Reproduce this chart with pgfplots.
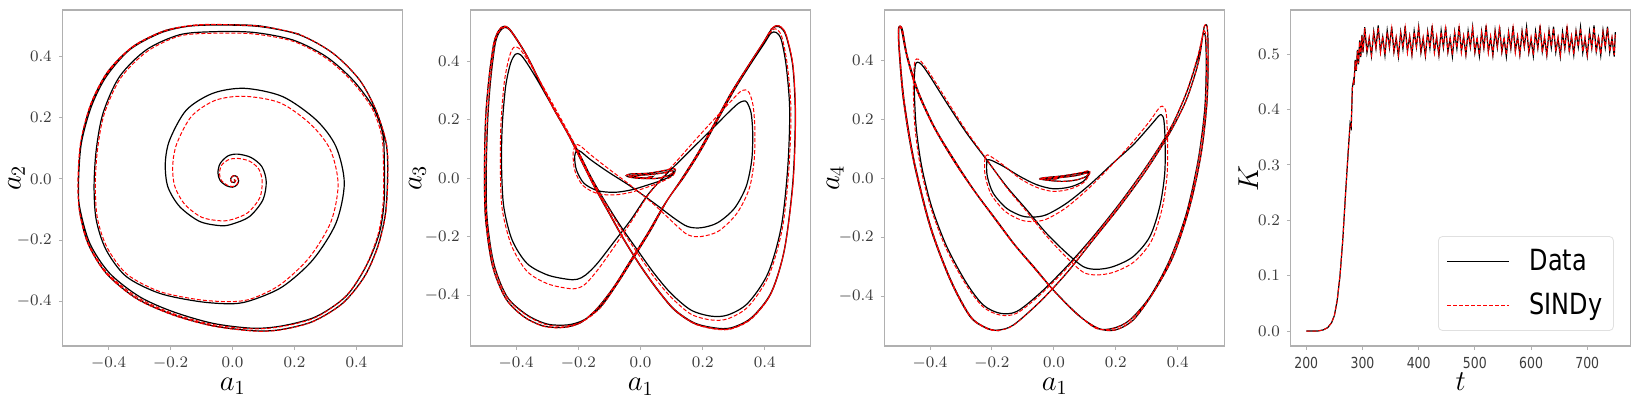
\documentclass[border=0pt]{standalone}
\usepackage{fontspec}
\usepackage{pgfplots}
\pgfplotsset{compat=1.18}
\newfontfamily\legfont[FakeStretch=0.82]{DejaVu Sans}
\definecolor{framegray}{RGB}{176,176,176}
\definecolor{ticktext}{RGB}{60,60,60}
\pgfplotsset{
  panel/.style={
    scale only axis, width=170pt, height=168pt,
    axis line style={framegray, line width=0.6pt},
    tick align=outside, xtick pos=bottom, ytick pos=left,
    major tick length=2pt, tick style={framegray, line width=0.5pt},
    tick label style={color=ticktext, font=\fontsize{8.4}{10}\selectfont},
    label style={font=\fontsize{14.5}{17}\selectfont},
    xlabel style={at={(axis description cs:0.5,-0.133)}, anchor=base},
    scaled ticks=false,
    /pgf/number format/fixed, /pgf/number format/fixed zerofill, /pgf/number format/precision=1,
  },
  phase/.style={panel, xtick={-0.4,-0.2,0,0.2,0.4}, ytick={-0.4,-0.2,0,0.2,0.4}},
  data/.style={black, line width=0.6pt, smooth, tension=0.5},
  sindy/.style={red, line width=0.5pt, dash pattern=on 2pt off 1pt, smooth, tension=0.5},
}
\begin{document}
\begin{tikzpicture}

% ---------- panel 1: a1 vs a2
\begin{axis}[phase, at={(31.4pt,27pt)}, anchor=south west,
  xmin=-0.548, xmax=0.550, ymin=-0.546, ymax=0.552,
  xlabel={$a_1$}, ylabel={$a_2$},
  ylabel style={at={(axis description cs:-0.136,0.5)}, anchor=center}]
\addplot[data] coordinates {
(0.005,-0.002) (0.010,-0.006) (0.006,-0.012) (-0.003,-0.010) (-0.006,0.000) (0.002,0.010)
(0.014,0.008) (0.020,-0.006) (0.014,-0.020) (0.000,-0.027) (-0.020,-0.022) (-0.040,-0.005)
(-0.047,0.020) (-0.040,0.050) (-0.015,0.075) (0.017,0.081) (0.060,0.070) (0.095,0.040)
(0.109,-0.009) (0.098,-0.069) (0.055,-0.123) (0.001,-0.147) (-0.037,-0.153) (-0.106,-0.139)
(-0.171,-0.090) (-0.209,-0.025) (-0.217,0.051) (-0.203,0.127) (-0.149,0.225) (-0.063,0.280)
(0.039,0.296) (0.162,0.269) (0.270,0.193) (0.334,0.106) (0.361,-0.014) (0.334,-0.145)
(0.259,-0.265) (0.162,-0.352) (0.066,-0.395) (0.001,-0.408) (-0.106,-0.401) (-0.235,-0.374)
(-0.343,-0.319) (-0.408,-0.232) (-0.440,-0.134) (-0.447,-0.025) (-0.440,0.095) (-0.418,0.215)
(-0.365,0.334) (-0.278,0.422) (-0.171,0.471) (-0.063,0.481) (0.066,0.479) (0.195,0.454)
(0.302,0.400) (0.388,0.324) (0.453,0.236) (0.485,0.149) (0.490,0.073) (0.490,-0.069)
(0.474,-0.178) (0.431,-0.286) (0.367,-0.383) (0.270,-0.450) (0.162,-0.480) (0.066,-0.488)
(-0.063,-0.472) (-0.192,-0.434) (-0.300,-0.385) (-0.397,-0.308) (-0.461,-0.210) (-0.494,-0.090)
(-0.497,-0.003) (-0.488,0.117) (-0.456,0.236) (-0.408,0.334) (-0.332,0.422) (-0.235,0.476)
(-0.149,0.498) (-0.053,0.503) (0.087,0.498) (0.216,0.471) (0.324,0.411) (0.410,0.324)
(0.463,0.225) (0.496,0.117) (0.501,0.019) (0.494,-0.112) (0.469,-0.221) (0.426,-0.319)
(0.356,-0.406) (0.259,-0.466) (0.152,-0.493) (0.066,-0.496) (-0.063,-0.480) (-0.192,-0.444)
(-0.311,-0.390) (-0.408,-0.308) (-0.467,-0.210) (-0.494,-0.101) (-0.497,0.008) (-0.488,0.127)
(-0.456,0.247) (-0.402,0.351) (-0.322,0.432) (-0.225,0.482) (-0.139,0.500) (-0.053,0.504)
(0.087,0.500) (0.216,0.473)
};
\addplot[sindy] coordinates {
(0.005,-0.002) (0.010,-0.006) (0.006,-0.012) (-0.003,-0.010) (-0.006,0.000) (0.002,0.010)
(0.014,0.008) (0.019,-0.006) (0.013,-0.019) (0.000,-0.025) (-0.018,-0.020) (-0.036,-0.005)
(-0.042,0.018) (-0.035,0.045) (-0.012,0.063) (0.017,0.067) (0.055,0.058) (0.085,0.032)
(0.096,-0.009) (0.088,-0.062) (0.050,-0.110) (0.001,-0.132) (-0.037,-0.137) (-0.100,-0.125)
(-0.155,-0.082) (-0.187,-0.022) (-0.193,0.045) (-0.180,0.115) (-0.132,0.205) (-0.055,0.257)
(0.039,0.270) (0.155,0.248) (0.253,0.178) (0.316,0.095) (0.341,-0.017) (0.318,-0.140)
(0.248,-0.257) (0.155,-0.345) (0.066,-0.390) (0.001,-0.401) (-0.106,-0.395) (-0.235,-0.368)
(-0.340,-0.312) (-0.404,-0.226) (-0.436,-0.130) (-0.443,-0.022) (-0.436,0.095) (-0.414,0.213)
(-0.361,0.330) (-0.275,0.417) (-0.171,0.467) (-0.063,0.476) (0.066,0.474) (0.195,0.450)
(0.300,0.396) (0.385,0.320) (0.450,0.232) (0.481,0.145) (0.487,0.070) (0.487,-0.069)
(0.471,-0.178) (0.430,-0.286) (0.366,-0.383) (0.270,-0.452) (0.162,-0.482) (0.066,-0.490)
(-0.063,-0.476) (-0.192,-0.440) (-0.305,-0.388) (-0.404,-0.308) (-0.465,-0.210) (-0.495,-0.095)
(-0.499,0.003) (-0.490,0.122) (-0.457,0.242) (-0.405,0.343) (-0.327,0.427) (-0.230,0.479)
(-0.144,0.499) (-0.053,0.504) (0.087,0.499) (0.216,0.472) (0.324,0.411) (0.410,0.324)
(0.463,0.225) (0.497,0.117) (0.502,0.019) (0.495,-0.112) (0.470,-0.221) (0.427,-0.319)
(0.357,-0.406) (0.259,-0.467) (0.152,-0.494) (0.066,-0.497) (-0.063,-0.481) (-0.192,-0.445)
(-0.311,-0.391) (-0.408,-0.309) (-0.467,-0.211) (-0.495,-0.101) (-0.498,0.008) (-0.489,0.127)
(-0.457,0.247) (-0.403,0.351) (-0.323,0.432) (-0.226,0.482) (-0.139,0.501) (-0.053,0.505)
(0.087,0.500)
};
\end{axis}

% ---------- panel 2: a1 vs a3
\begin{axis}[phase, at={(235.4pt,27pt)}, anchor=south west,
  xmin=-0.546, xmax=0.548, ymin=-0.573, ymax=0.575,
  xlabel={$a_1$}, ylabel={$a_3$},
  ylabel style={at={(axis description cs:-0.157,0.5)}, anchor=center}]
\addplot[data] coordinates {
(0.023,0.003) (0.039,0.006) (0.028,0.001) (0.001,0.002) (-0.020,0.006) (-0.031,0.009)
(-0.010,0.010) (0.033,0.013) (0.076,0.019) (0.100,0.026) (0.106,0.022) (0.092,0.010)
(0.055,0.000) (0.012,-0.001) (-0.031,0.003) (-0.046,0.009) (-0.031,0.015) (0.023,0.017)
(0.076,0.026) (0.103,0.033) (0.112,0.028) (0.103,0.011) (0.071,-0.006) (0.023,-0.023)
(-0.031,-0.040) (-0.085,-0.048) (-0.139,-0.042) (-0.182,-0.017) (-0.206,0.028) (-0.212,0.074)
(-0.205,0.095) (-0.192,0.091)
(-0.160,0.063) (-0.106,0.023) (-0.031,-0.028) (0.044,-0.085) (0.109,-0.137) (0.152,-0.165)
(0.195,-0.169) (0.248,-0.152) (0.302,-0.103) (0.340,-0.028) (0.358,0.063) (0.361,0.154)
(0.356,0.222) (0.343,0.259) (0.332,0.264) (0.315,0.256)
(0.286,0.228) (0.238,0.177) (0.184,0.120) (0.130,0.063) (0.076,0.006) (0.023,-0.057)
(-0.031,-0.142) (-0.085,-0.217) (-0.139,-0.291) (-0.176,-0.330) (-0.203,-0.345) (-0.235,-0.345)
(-0.300,-0.330) (-0.365,-0.291) (-0.413,-0.211) (-0.440,-0.097) (-0.447,0.040) (-0.445,0.177)
(-0.434,0.313) (-0.418,0.393) (-0.402,0.424) (-0.386,0.422)
(-0.365,0.393) (-0.332,0.336) (-0.289,0.256) (-0.246,0.177) (-0.203,0.097) (-0.160,0.006)
(-0.117,-0.074) (-0.063,-0.165) (-0.010,-0.245) (0.044,-0.325) (0.098,-0.393) (0.162,-0.450)
(0.227,-0.471) (0.281,-0.467) (0.345,-0.427) (0.410,-0.325) (0.453,-0.165) (0.474,0.040)
(0.480,0.234) (0.469,0.382) (0.453,0.473) (0.437,0.498) (0.420,0.496)
(0.399,0.462) (0.356,0.393) (0.302,0.302) (0.248,0.199) (0.195,0.097) (0.141,0.006)
(0.087,-0.074) (0.033,-0.177) (-0.020,-0.268) (-0.074,-0.359) (-0.128,-0.439) (-0.182,-0.484)
(-0.235,-0.501) (-0.300,-0.498) (-0.365,-0.467) (-0.429,-0.405) (-0.472,-0.291) (-0.494,-0.131)
(-0.496,0.040) (-0.491,0.211) (-0.481,0.348) (-0.467,0.462) (-0.453,0.501) (-0.438,0.515)
(-0.423,0.509)
(-0.402,0.479) (-0.365,0.416) (-0.322,0.325) (-0.278,0.234) (-0.235,0.154) (-0.192,0.063)
(-0.149,-0.028) (-0.101,-0.120) (-0.053,-0.211) (0.001,-0.302) (0.055,-0.382) (0.109,-0.450)
(0.173,-0.496) (0.238,-0.513) (0.291,-0.513) (0.356,-0.479) (0.420,-0.393) (0.463,-0.245)
(0.490,-0.017) (0.498,0.211) (0.490,0.382) (0.469,0.484) (0.453,0.513) (0.437,0.519)
(0.420,0.507)
(0.394,0.462) (0.345,0.382) (0.291,0.291) (0.238,0.188) (0.184,0.085) (0.130,-0.006)
(0.076,-0.091) (0.023,-0.188) (-0.031,-0.279) (-0.085,-0.370) (-0.139,-0.444) (-0.192,-0.493)
(-0.246,-0.509) (-0.311,-0.505) (-0.375,-0.473) (-0.434,-0.410) (-0.477,-0.296) (-0.499,-0.131)
(-0.502,0.040) (-0.498,0.211) (-0.487,0.348) (-0.472,0.462) (-0.456,0.505) (-0.440,0.519)
(-0.424,0.513)
(-0.402,0.482) (-0.365,0.418) (-0.322,0.327) (-0.278,0.236) (-0.235,0.156) (-0.192,0.065)
(-0.149,-0.026) (-0.101,-0.117) (-0.053,-0.209) (0.001,-0.300) (0.055,-0.380) (0.109,-0.448)
(0.173,-0.494) (0.238,-0.511) (0.291,-0.511) (0.356,-0.477) (0.420,-0.391) (0.463,-0.243)
(0.490,-0.015) (0.498,0.213) (0.490,0.384) (0.469,0.486) (0.453,0.515) (0.437,0.521)
(0.420,0.509)
};
\addplot[sindy] coordinates {
(0.023,0.003) (0.039,0.006) (0.028,0.001) (0.001,0.002) (-0.020,0.006) (-0.031,0.009)
(-0.010,0.010) (0.033,0.013) (0.076,0.019) (0.100,0.026) (0.106,0.022) (0.092,0.010)
(0.055,0.000) (0.012,-0.001) (-0.031,0.003) (-0.046,0.009) (-0.031,0.015) (0.023,0.017)
(0.076,0.027) (0.104,0.034) (0.113,0.029) (0.105,0.010) (0.072,-0.010) (0.023,-0.030)
(-0.031,-0.048) (-0.085,-0.057) (-0.139,-0.052) (-0.185,-0.025) (-0.211,0.025) (-0.217,0.085)
(-0.208,0.114) (-0.193,0.110)
(-0.160,0.080) (-0.106,0.035) (-0.031,-0.025) (0.044,-0.090) (0.109,-0.155) (0.152,-0.193)
(0.195,-0.199) (0.252,-0.180) (0.310,-0.120) (0.350,-0.035) (0.366,0.065) (0.368,0.170)
(0.362,0.250) (0.350,0.292) (0.338,0.302) (0.320,0.295)
(0.290,0.262) (0.240,0.205) (0.184,0.140) (0.130,0.075) (0.076,0.010) (0.023,-0.060)
(-0.031,-0.150) (-0.085,-0.235) (-0.139,-0.315) (-0.176,-0.360) (-0.203,-0.376) (-0.235,-0.376)
(-0.300,-0.360) (-0.365,-0.318) (-0.415,-0.230) (-0.445,-0.105) (-0.451,0.040) (-0.449,0.185)
(-0.438,0.330) (-0.422,0.415) (-0.408,0.447) (-0.392,0.445)
(-0.370,0.415) (-0.336,0.356) (-0.292,0.272) (-0.248,0.188) (-0.205,0.103) (-0.162,0.008)
(-0.118,-0.075) (-0.064,-0.170) (-0.010,-0.255) (0.044,-0.338) (0.098,-0.406) (0.162,-0.464)
(0.227,-0.484) (0.281,-0.480) (0.347,-0.438) (0.413,-0.332) (0.457,-0.168) (0.478,0.040)
(0.484,0.238) (0.472,0.390) (0.455,0.482) (0.440,0.508) (0.425,0.507)
(0.399,0.470) (0.356,0.398) (0.302,0.305) (0.248,0.200) (0.195,0.097) (0.141,0.006)
(0.087,-0.074) (0.033,-0.177) (-0.020,-0.268) (-0.074,-0.359) (-0.128,-0.441) (-0.182,-0.487)
(-0.235,-0.504) (-0.300,-0.501) (-0.365,-0.469) (-0.429,-0.407) (-0.473,-0.292) (-0.495,-0.131)
(-0.497,0.040) (-0.492,0.211) (-0.482,0.348) (-0.468,0.464) (-0.454,0.503) (-0.438,0.516)
(-0.423,0.510)
(-0.402,0.479) (-0.365,0.416) (-0.322,0.325) (-0.278,0.234) (-0.235,0.154) (-0.192,0.063)
(-0.149,-0.028) (-0.101,-0.120) (-0.053,-0.211) (0.001,-0.302) (0.055,-0.382) (0.109,-0.450)
(0.173,-0.497) (0.238,-0.515) (0.291,-0.515) (0.356,-0.481) (0.420,-0.394) (0.463,-0.245)
(0.491,-0.017) (0.499,0.211) (0.491,0.382) (0.470,0.485) (0.454,0.515) (0.437,0.521)
(0.420,0.508)
(0.394,0.462) (0.345,0.382) (0.291,0.291) (0.238,0.188) (0.184,0.085) (0.130,-0.006)
(0.076,-0.091) (0.023,-0.188) (-0.031,-0.279) (-0.085,-0.370) (-0.139,-0.444) (-0.192,-0.493)
(-0.246,-0.510) (-0.311,-0.506) (-0.375,-0.474) (-0.434,-0.411) (-0.477,-0.297) (-0.499,-0.131)
(-0.502,0.040) (-0.498,0.211) (-0.487,0.348) (-0.472,0.462) (-0.456,0.506) (-0.440,0.520)
(-0.424,0.513)
(-0.402,0.482) (-0.365,0.418) (-0.322,0.327) (-0.278,0.236) (-0.235,0.156) (-0.192,0.065)
(-0.149,-0.026) (-0.101,-0.117) (-0.053,-0.209) (0.001,-0.300) (0.055,-0.380) (0.109,-0.448)
(0.173,-0.495) (0.238,-0.513) (0.291,-0.513) (0.356,-0.478) (0.420,-0.392) (0.463,-0.244)
(0.491,-0.015) (0.499,0.213) (0.491,0.384) (0.470,0.487) (0.454,0.516) (0.437,0.522)
(0.420,0.510)
};
\end{axis}

% ---------- panel 3: a1 vs a4
\begin{axis}[phase, at={(442.4pt,27pt)}, anchor=south west,
  xmin=-0.546, xmax=0.552, ymin=-0.568, ymax=0.571,
  xlabel={$a_1$}, ylabel={$a_4$},
  ylabel style={at={(axis description cs:-0.146,0.5)}, anchor=center}]
\addplot[data] coordinates {
(-0.002,-0.001) (0.014,0.001) (0.003,-0.002) (-0.024,-0.002) (-0.043,-0.001) (-0.029,0.003)
(0.019,0.003) (0.073,0.010) (0.103,0.018) (0.112,0.018) (0.105,0.007) (0.073,-0.005)
(0.030,-0.010) (-0.013,-0.007) (-0.045,-0.002) (-0.034,0.002) (0.030,0.009) (0.084,0.018)
(0.111,0.024) (0.114,0.016) (0.095,-0.010) (0.052,-0.029) (-0.002,-0.035) (-0.056,-0.021)
(-0.110,0.007) (-0.163,0.041) (-0.201,0.061) (-0.214,0.063)
(-0.217,0.052) (-0.215,0.007) (-0.196,-0.050) (-0.153,-0.101) (-0.104,-0.127) (-0.067,-0.131)
(-0.024,-0.123)
(0.041,-0.084) (0.116,-0.021) (0.191,0.052) (0.256,0.114) (0.310,0.177) (0.337,0.210)
(0.347,0.216) (0.355,0.199)
(0.359,0.131) (0.358,0.018) (0.342,-0.095) (0.310,-0.197) (0.256,-0.265) (0.191,-0.299)
(0.138,-0.308) (0.095,-0.299)
(0.041,-0.253) (-0.024,-0.186) (-0.088,-0.106) (-0.153,-0.027) (-0.217,0.063) (-0.282,0.154)
(-0.346,0.256) (-0.400,0.346) (-0.427,0.386) (-0.441,0.394) (-0.448,0.380)
(-0.451,0.312) (-0.445,0.177) (-0.427,0.041) (-0.395,-0.095) (-0.346,-0.231) (-0.282,-0.355)
(-0.228,-0.429) (-0.174,-0.457) (-0.120,-0.451)
(-0.045,-0.389) (0.041,-0.299) (0.127,-0.197) (0.213,-0.084) (0.299,0.041) (0.374,0.165)
(0.428,0.290) (0.466,0.414) (0.480,0.482) (0.486,0.491) (0.490,0.471)
(0.492,0.380) (0.487,0.233) (0.466,0.063) (0.428,-0.118) (0.374,-0.276) (0.310,-0.401)
(0.245,-0.480) (0.191,-0.508) (0.138,-0.508)
(0.073,-0.457) (-0.002,-0.378) (-0.067,-0.299) (-0.131,-0.220) (-0.196,-0.129) (-0.260,-0.038)
(-0.325,0.063) (-0.389,0.177) (-0.443,0.301) (-0.475,0.414) (-0.491,0.499) (-0.497,0.514)
(-0.502,0.505)
(-0.500,0.437) (-0.486,0.267) (-0.454,0.063) (-0.400,-0.163) (-0.335,-0.344) (-0.271,-0.468)
(-0.217,-0.508) (-0.180,-0.514) (-0.131,-0.497)
(-0.045,-0.418) (0.041,-0.321) (0.127,-0.208) (0.213,-0.095) (0.299,0.029) (0.374,0.154)
(0.428,0.267) (0.466,0.391) (0.482,0.493) (0.487,0.518) (0.495,0.514)
(0.498,0.437) (0.495,0.267) (0.476,0.086) (0.439,-0.095) (0.385,-0.265) (0.320,-0.389)
(0.256,-0.480) (0.197,-0.514) (0.143,-0.508)
(0.078,-0.463) (0.003,-0.384) (-0.061,-0.304) (-0.126,-0.225) (-0.190,-0.135) (-0.255,-0.044)
(-0.319,0.058) (-0.384,0.171) (-0.438,0.295) (-0.473,0.414) (-0.488,0.499) (-0.495,0.516)
(-0.501,0.507)
(-0.499,0.437) (-0.484,0.267) (-0.452,0.063) (-0.398,-0.163) (-0.333,-0.344) (-0.269,-0.468)
(-0.215,-0.508) (-0.177,-0.516)
};
\addplot[sindy] coordinates {
(-0.002,-0.001) (0.014,0.001) (0.003,-0.002) (-0.024,-0.002) (-0.043,-0.001) (-0.029,0.003)
(0.019,0.003) (0.073,0.010) (0.103,0.018) (0.112,0.018) (0.105,0.007) (0.073,-0.005)
(0.030,-0.010) (-0.013,-0.007) (-0.045,-0.002) (-0.034,0.002) (0.030,0.009) (0.084,0.019)
(0.112,0.026) (0.116,0.017) (0.096,-0.014) (0.052,-0.036) (-0.002,-0.044) (-0.056,-0.030)
(-0.110,0.000) (-0.163,0.045) (-0.200,0.072) (-0.215,0.080)
(-0.223,0.065) (-0.222,0.010) (-0.202,-0.055) (-0.157,-0.112) (-0.106,-0.141) (-0.067,-0.146)
(-0.024,-0.138)
(0.041,-0.098) (0.116,-0.030) (0.191,0.050) (0.256,0.125) (0.310,0.195) (0.337,0.235)
(0.350,0.245) (0.362,0.225)
(0.367,0.140) (0.366,0.018) (0.350,-0.100) (0.316,-0.210) (0.260,-0.282) (0.193,-0.318)
(0.138,-0.327) (0.095,-0.318)
(0.041,-0.268) (-0.024,-0.195) (-0.088,-0.112) (-0.153,-0.030) (-0.217,0.065) (-0.282,0.160)
(-0.346,0.265) (-0.402,0.358) (-0.430,0.398) (-0.443,0.405) (-0.450,0.390)
(-0.454,0.318) (-0.449,0.177) (-0.431,0.041) (-0.398,-0.097) (-0.349,-0.235) (-0.284,-0.360)
(-0.229,-0.435) (-0.174,-0.463) (-0.120,-0.457)
(-0.045,-0.395) (0.041,-0.305) (0.127,-0.200) (0.213,-0.086) (0.299,0.040) (0.374,0.165)
(0.428,0.292) (0.466,0.420) (0.481,0.490) (0.487,0.500) (0.491,0.478)
(0.493,0.380) (0.488,0.233) (0.467,0.063) (0.429,-0.118) (0.375,-0.276) (0.311,-0.402)
(0.245,-0.481) (0.191,-0.509) (0.138,-0.509)
(0.073,-0.458) (-0.002,-0.379) (-0.067,-0.300) (-0.131,-0.221) (-0.196,-0.130) (-0.260,-0.039)
(-0.325,0.062) (-0.389,0.176) (-0.443,0.300) (-0.475,0.414) (-0.491,0.499) (-0.497,0.514)
(-0.502,0.505)
(-0.500,0.437) (-0.486,0.267) (-0.454,0.063) (-0.400,-0.163) (-0.335,-0.344) (-0.271,-0.468)
(-0.217,-0.509) (-0.180,-0.515) (-0.131,-0.498)
(-0.045,-0.418) (0.041,-0.321) (0.127,-0.208) (0.213,-0.095) (0.299,0.029) (0.374,0.154)
(0.428,0.267) (0.466,0.391) (0.482,0.495) (0.487,0.519) (0.495,0.515)
(0.498,0.437) (0.495,0.267) (0.476,0.086) (0.439,-0.095) (0.385,-0.265) (0.320,-0.389)
(0.256,-0.480) (0.197,-0.514) (0.143,-0.508)
(0.078,-0.463) (0.003,-0.384) (-0.061,-0.304) (-0.126,-0.225) (-0.190,-0.135) (-0.255,-0.044)
(-0.319,0.058) (-0.384,0.171) (-0.438,0.295) (-0.473,0.414) (-0.488,0.499) (-0.495,0.516)
(-0.501,0.507)
(-0.499,0.437) (-0.484,0.267) (-0.452,0.063) (-0.398,-0.163) (-0.333,-0.344) (-0.269,-0.468)
(-0.215,-0.508) (-0.177,-0.516)
};
\end{axis}

% ---------- panel 4: K vs t
\begin{axis}[panel, at={(645.4pt,27pt)}, anchor=south west,
  xmin=172.5, xmax=777.5, ymin=-0.027, ymax=0.580,
  xtick={200,300,400,500,600,700}, xticklabels={200,300,400,500,600,700},
  xticklabel style={font=\legfont\fontsize{7.6}{9}\selectfont},
  ytick={0,0.1,0.2,0.3,0.4,0.5},
  xlabel={$t$}, ylabel={$K$},
  ylabel style={at={(axis description cs:-0.125,0.5)}, anchor=center},
  legend style={at={(rel axis cs:0.95,0.045)}, anchor=south east,
    draw=black!12, rounded corners=2pt, fill=white,
    font=\legfont\fontsize{14.6}{17}\selectfont,
    inner xsep=4pt, inner ysep=5pt, row sep=6.5pt,
    nodes={inner sep=1.5pt},
    /tikz/every odd column/.append style={column sep=8.5pt}},
  legend cell align=left,
  legend image code/.code={\draw[#1] (0pt,0pt) -- (31pt,0pt);}]
\addplot[black, line width=0.6pt] coordinates {
(200,0.000) (210,0.000) (220,0.000) (230,0.002) (238,0.006) (245,0.015) (250,0.028)
(255,0.055) (260,0.100) (265,0.165) (270,0.250) (275,0.330) (278,0.375) (280,0.368)
(282,0.440) (284,0.452) (285,0.445) (287,0.490) (289,0.470) (291,0.508) (293,0.482)
(295,0.525) (297,0.495) (299,0.535) (301,0.503)
(304,0.549) (308,0.503) (312,0.528) (316,0.497) (320,0.541) (324,0.511) (328,0.552) (332,0.505)
(336,0.531) (340,0.498) (344,0.543) (348,0.512) (352,0.550) (356,0.504) (360,0.529) (364,0.496)
(368,0.540) (372,0.510) (376,0.551) (380,0.506) (384,0.532) (388,0.499) (392,0.542) (396,0.513)
(400,0.549) (404,0.503) (408,0.528) (412,0.497) (416,0.541) (420,0.511) (424,0.552) (428,0.505)
(432,0.530) (436,0.498) (440,0.543) (444,0.512) (448,0.550) (452,0.504) (456,0.529) (460,0.496)
(464,0.540) (468,0.510) (472,0.551) (476,0.506) (480,0.532) (484,0.499) (488,0.542) (492,0.513)
(496,0.549) (500,0.503) (504,0.528) (508,0.497) (512,0.541) (516,0.511) (520,0.552) (524,0.505)
(528,0.530) (532,0.498) (536,0.543) (540,0.512) (544,0.550) (548,0.504) (552,0.529) (556,0.496)
(560,0.540) (564,0.510) (568,0.551) (572,0.506) (576,0.532) (580,0.499) (584,0.542) (588,0.513)
(592,0.549) (596,0.503) (600,0.528) (604,0.497) (608,0.541) (612,0.511) (616,0.552) (620,0.505)
(624,0.530) (628,0.498) (632,0.543) (636,0.512) (640,0.550) (644,0.504) (648,0.529) (652,0.496)
(656,0.540) (660,0.510) (664,0.551) (668,0.506) (672,0.532) (676,0.499) (680,0.542) (684,0.513)
(688,0.549) (692,0.503) (696,0.528) (700,0.497) (704,0.541) (708,0.511) (712,0.552) (716,0.505)
(720,0.530) (724,0.498) (728,0.543) (732,0.512) (736,0.550) (740,0.504) (744,0.529) (748,0.496)
(750,0.540)
};
\addlegendentry{Data}
\addplot[red, line width=0.5pt, dash pattern=on 2pt off 1pt] coordinates {
(200,0.000) (210,0.000) (220,0.000) (230,0.002) (238,0.006) (245,0.015) (250,0.028)
(255,0.055) (260,0.100) (265,0.165) (270,0.250) (275,0.330) (278,0.372) (280,0.370)
(282,0.438) (284,0.450) (285,0.447) (287,0.488) (289,0.472) (291,0.506) (293,0.484)
(295,0.523) (297,0.497) (299,0.533) (301,0.505)
(304,0.547) (308,0.505) (312,0.531) (316,0.499) (320,0.539) (324,0.512) (328,0.548) (332,0.503)
(336,0.533) (340,0.500) (344,0.540) (348,0.514) (352,0.547) (356,0.505) (360,0.531) (364,0.499)
(368,0.539) (372,0.512) (376,0.548) (380,0.503) (384,0.533) (388,0.500) (392,0.540) (396,0.514)
(400,0.547) (404,0.505) (408,0.531) (412,0.499) (416,0.539) (420,0.512) (424,0.548) (428,0.503)
(432,0.533) (436,0.500) (440,0.540) (444,0.514) (448,0.547) (452,0.505) (456,0.531) (460,0.499)
(464,0.539) (468,0.512) (472,0.548) (476,0.503) (480,0.533) (484,0.500) (488,0.540) (492,0.514)
(496,0.547) (500,0.505) (504,0.531) (508,0.499) (512,0.539) (516,0.512) (520,0.548) (524,0.503)
(528,0.533) (532,0.500) (536,0.540) (540,0.514) (544,0.547) (548,0.505) (552,0.531) (556,0.499)
(560,0.539) (564,0.512) (568,0.548) (572,0.503) (576,0.533) (580,0.500) (584,0.540) (588,0.514)
(592,0.547) (596,0.505) (600,0.531) (604,0.499) (608,0.539) (612,0.512) (616,0.548) (620,0.503)
(624,0.533) (628,0.500) (632,0.540) (636,0.514) (640,0.547) (644,0.505) (648,0.531) (652,0.499)
(656,0.539) (660,0.512) (664,0.548) (668,0.503) (672,0.533) (676,0.500) (680,0.540) (684,0.514)
(688,0.547) (692,0.505) (696,0.531) (700,0.499) (704,0.539) (708,0.512) (712,0.548) (716,0.503)
(720,0.533) (724,0.500) (728,0.540) (732,0.514) (736,0.547) (740,0.505) (744,0.531) (748,0.499)
(750,0.538)
};
\addlegendentry{SINDy}
\end{axis}
\pgfresetboundingbox
\path[use as bounding box] (0,0) rectangle (821pt,200pt);
\end{tikzpicture}
\end{document}
